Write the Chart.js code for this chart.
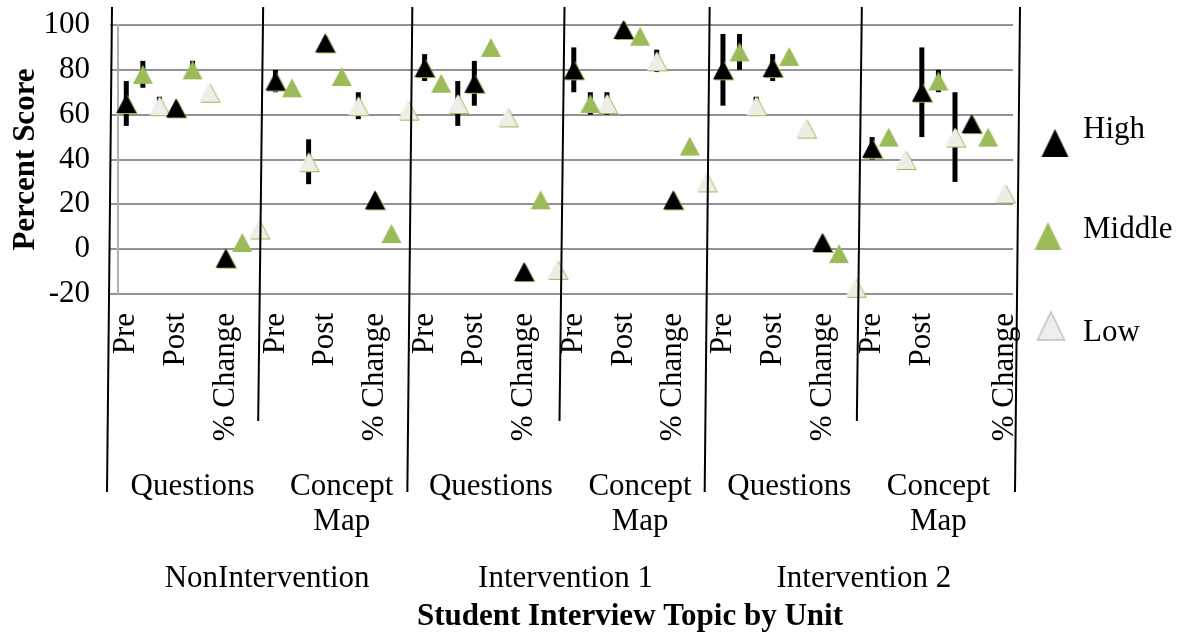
<!DOCTYPE html>
<html>
<head>
<meta charset="utf-8">
<script src="https://cdn.jsdelivr.net/npm/chart.js@4.4.1/dist/chart.umd.min.js"></script>
<style>
  html, body { margin: 0; padding: 0; background: #fff; }
</style>
</head>
<body>
<canvas id="chart" width="1186" height="636"></canvas>
<script>
// categories
const units = ["NonIntervention", "Intervention 1", "Intervention 2"];
const topics = [["Questions"], ["Concept", "Map"]];
// tick labels, one per marker slot (3 slots per measure)
const slotLabels = [
  "Pre", "", "", "Post", "", "", "% Change", "", "",
  "Pre", "", "", "Post", "", "", "% Change", "", "",
  "Pre", "", "", "Post", "", "", "% Change", "", "",
  "Pre", "", "", "Post", "", "", "% Change", "", "",
  "Pre", "", "", "Post", "", "", "% Change", "", "",
  "Pre", "", "", "Post", "", "", "", "", "% Change"
];

// values, 18 per series: unit > topic > Pre / Post / % Change
const high   = [65, 63, -4, 75, 92, 22, 81, 74, -10, 80, 98, 22, 80, 81, 3, 45, 70, 56];
const middle = [78, 80, 3, 72, 77, 7, 74, 90, 22, 65, 95, 46, 88, 86, -2, 50, 75, 50];
const low    = [64, 70, 9, 39, 64, 62, 65, 59, -9, 65, 84, 30, 64, 54, -17, 40, 50, 25];

// +/- error
const highErr   = [10, 0, 0, 5, 0, 0, 6, 10, 0, 10, 0, 0, 16, 6, 0, 5, 20, 0];
const middleErr = [6, 4, 0, 0, 0, 0, 0, 0, 0, 5, 0, 0, 8, 0, 0, 0, 5, 0];
const lowErr    = [4, 0, 0, 10, 6, 0, 10, 0, 0, 5, 5, 0, 4, 0, 0, 0, 20, 0];

const yTicks = [-20, 0, 20, 40, 60, 80, 100];

const FONT = "'Liberation Serif', 'Times New Roman', serif";
const FS = 31;
const GREEN = "#9bbb59";

function toSlots(vals, offset) {
  const out = new Array(slotLabels.length).fill(null);
  vals.forEach((v, i) => { out[3 * i + offset] = v; });
  return out;
}

function triangle(w, h, fill, stroke, shadow) {
  const c = document.createElement("canvas");
  c.width = w + 6;
  c.height = h + 6;
  const g = c.getContext("2d");
  const path = (dx, dy) => {
    g.beginPath();
    g.moveTo(3 + w / 2 + dx, 3 + dy);
    g.lineTo(3 + w + dx, 3 + h + dy);
    g.lineTo(3 + dx, 3 + h + dy);
    g.closePath();
  };
  if (shadow) { path(1.5, 1); g.fillStyle = shadow; g.fill(); }
  path(0, 0);
  g.fillStyle = fill;
  g.fill();
  if (stroke) { g.strokeStyle = stroke; g.lineWidth = 1.5; g.stroke(); }
  return c;
}

const markHigh = triangle(20, 19, "#000", null, GREEN);
const markMid = triangle(20, 19, GREEN, null, null);
const markLow = triangle(20, 19, "#eeeee8", null, GREEN);

const legendItems = [
  { text: "High", img: triangle(27, 28, "#000", null, null), mx: 1055, my: 143, ty: 130 },
  { text: "Middle", img: triangle(27, 28, GREEN, null, null), mx: 1048, my: 236, ty: 230 },
  { text: "Low", img: triangle(27, 28, "#eeeeee", "#bfbfbf", null), mx: 1051, my: 326, ty: 333 }
];

const errorBars = {
  id: "errorBars",
  beforeDatasetsDraw(chart) {
    const y = chart.scales.y;
    const ctx = chart.ctx;
    ctx.save();
    ctx.strokeStyle = "#000";
    ctx.lineWidth = 5;
    chart.data.datasets.forEach((ds, d) => {
      const meta = chart.getDatasetMeta(d);
      ds.errors.forEach((e, i) => {
        if (!e) return;
        const k = 3 * i + d;
        const pt = meta.data[k];
        const v = ds.data[k];
        ctx.beginPath();
        ctx.moveTo(pt.x, y.getPixelForValue(v + e));
        ctx.lineTo(pt.x, y.getPixelForValue(v - e));
        ctx.stroke();
      });
    });
    ctx.restore();
  }
};

// separators between groups, leaning a bit like in the original
const sepShift = [-6, -4, -4, -1, -5, -2, 7];

const groupAxis = {
  id: "groupAxis",
  afterDraw(chart) {
    const ctx = chart.ctx;
    const x = chart.scales.x;
    ctx.save();

    // divider lines
    ctx.strokeStyle = "#000";
    ctx.lineWidth = 2;
    for (let g = 0; g <= 6; g++) {
      const b = x.getPixelForValue(9 * g - 0.5) + sepShift[g];
      const bottom = g % 2 === 0 ? 492 : 421;
      ctx.beginPath();
      ctx.moveTo(b, 7);
      ctx.lineTo(b - 5, bottom);
      ctx.stroke();
    }

    ctx.fillStyle = "#000";
    ctx.textAlign = "center";
    ctx.textBaseline = "middle";
    ctx.font = FS + "px " + FONT;
    units.forEach((u, ui) => {
      topics.forEach((t, ti) => {
        const cx = x.getPixelForValue(18 * ui + 9 * ti + 4);
        t.forEach((line, li) => ctx.fillText(line, cx, 487 + li * 35));
      });
      ctx.fillText(u, x.getPixelForValue(18 * ui + 8.5), 579);
    });

    ctx.font = "bold " + FS + "px " + FONT;
    ctx.fillText("Student Interview Topic by Unit", 630, 617);

    // legend
    ctx.font = FS + "px " + FONT;
    ctx.textAlign = "left";
    legendItems.forEach(it => {
      ctx.drawImage(it.img, it.mx - it.img.width / 2, it.my - it.img.height / 2);
      ctx.fillText(it.text, 1083, it.ty);
    });
    ctx.restore();
  }
};

new Chart(document.getElementById("chart"), {
  type: "line",
  data: {
    labels: slotLabels,
    datasets: [
      { label: "High", data: toSlots(high, 0), errors: highErr, pointStyle: markHigh },
      { label: "Middle", data: toSlots(middle, 1), errors: middleErr, pointStyle: markMid },
      { label: "Low", data: toSlots(low, 2), errors: lowErr, pointStyle: markLow }
    ].map(ds => Object.assign(ds, {
      showLine: false,
      pointRadius: 10,
      pointHoverRadius: 10,
      clip: false
    }))
  },
  options: {
    responsive: false,
    animation: false,
    events: [],
    devicePixelRatio: 1,
    layout: { padding: { top: 25, right: 173, bottom: 192, left: 0 } },
    plugins: {
      legend: { display: false },
      tooltip: { enabled: false }
    },
    scales: {
      x: {
        type: "category",
        offset: true,
        grid: { display: false, drawTicks: false },
        border: { display: false },
        ticks: {
          autoSkip: false,
          minRotation: 90,
          maxRotation: 90,
          padding: 19,
          color: "#000",
          font: { family: FONT, size: FS }
        },
        afterFit: s => {
          s.height = 150;
          s.paddingLeft = 0;
          s.paddingRight = 0;
        }
      },
      y: {
        min: -20,
        max: 100,
        afterBuildTicks: s => { s.ticks = yTicks.map(v => ({ value: v })); },
        grid: { color: "#939393", lineWidth: 2, tickLength: 8 },
        border: { display: true, color: "#b0b0b0", width: 2 },
        ticks: {
          padding: 20,
          color: "#000",
          font: { family: FONT, size: FS }
        },
        title: {
          display: true,
          text: "Percent Score",
          color: "#000",
          padding: 7,
          font: { family: FONT, size: FS, weight: "bold" }
        },
        afterFit: s => {
          s.width = 118;
          s.paddingTop = 0;
          s.paddingBottom = 0;
        }
      }
    }
  },
  plugins: [errorBars, groupAxis]
});
</script>
</body>
</html>
